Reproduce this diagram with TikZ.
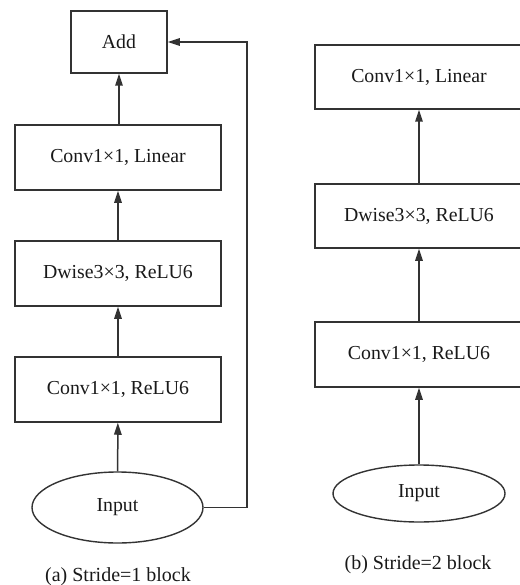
\documentclass[tikz,border=0pt]{standalone}
\usepackage{fontspec}
\setmainfont{Liberation Serif}
\usetikzlibrary{arrows.meta,shapes.geometric}
\begin{document}
\begin{tikzpicture}[x=1pt,y=-1pt,
  txt/.style={font=\fontsize{19.8}{22}\selectfont, text=black!90},
  blk/.style={txt, draw=black!80, line width=1.5pt, inner sep=0pt, minimum width=206pt, minimum height=65pt},
  oval/.style={txt, ellipse, draw=black!80, line width=1.4pt, inner sep=0pt},
  arr/.style={draw=black!80, line width=1.5pt, -{Triangle[length=12pt,width=7.5pt]}},
  captxt/.style={font=\fontsize{20}{23}\selectfont, text=black!90}]
\useasboundingbox (0,0) rectangle (519,585);
% left block
\node[blk, minimum width=96pt, minimum height=62pt] (add) at (119,42) {Add};
\node[blk] (l3) at (118,157.5) {Conv1×1, Linear};
\node[blk] (l2) at (118,273.5) {Dwise3×3, ReLU6};
\node[blk] (l1) at (118,389.5) {Conv1×1, ReLU6};
\node[oval, minimum width=171pt, minimum height=71pt] (lin) at (117.5,507.5) {Input};
\coordinate (fb1) at (247,507.5);
\coordinate (fb2) at (247,42);
\draw[arr] (lin) -- (l1);
\draw[arr] (l1) -- (l2);
\draw[arr] (l2) -- (l3);
\draw[arr] (l3.north -| add) -- (add);
\draw[arr] (lin.east) -- (fb1) -- (fb2) -- (add.east);
\node[captxt] (capa) at (118,577) {(a) Stride=1 block};
% right block
\node[blk, minimum width=208pt, minimum height=64pt] (r3) at (419,77) {Conv1×1, Linear};
\node[blk, minimum width=208pt, minimum height=64pt] (r2) at (419,216) {Dwise3×3, ReLU6};
\node[blk, minimum width=208pt, minimum height=65pt] (r1) at (419,354.5) {Conv1×1, ReLU6};
\node[oval, minimum width=172pt, minimum height=57pt] (rin) at (419,493.5) {Input};
\draw[arr] (rin) -- (r1);
\draw[arr] (r1) -- (r2);
\draw[arr] (r2) -- (r3);
\node[captxt] (capb) at (418,565) {(b) Stride=2 block};
\end{tikzpicture}
\end{document}
